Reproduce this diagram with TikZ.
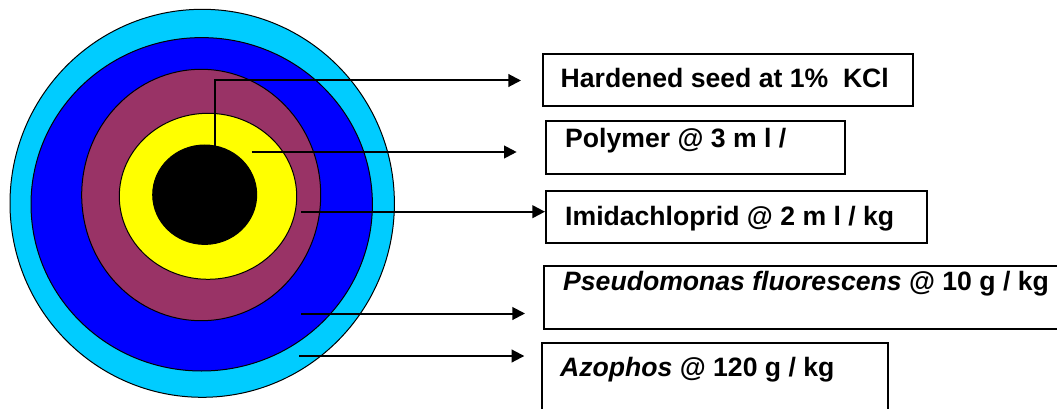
\documentclass[tikz,border=0pt]{standalone}
\usepackage{fontspec}
\setmainfont{Liberation Sans}
\usetikzlibrary{arrows.meta,shapes.geometric}
\definecolor{ringcyan}{HTML}{00CCFF}
\definecolor{ringblue}{HTML}{0000FF}
\definecolor{ringmaroon}{HTML}{993366}
\definecolor{ringyellow}{HTML}{FFFF00}
\begin{document}
\begin{tikzpicture}[x=1pt,y=-1pt,
  ring/.style={ellipse, draw=black, line width=1pt, inner sep=0pt, outer sep=0pt},
  labelbox/.style={draw=black, line width=2pt, inner sep=0pt, anchor=north west},
  labeltext/.style={anchor=base west, inner sep=0pt, font=\fontsize{26.6}{30}\selectfont\bfseries},
  conn/.style={line width=2pt, -{Triangle[length=12.7pt,width=12.7pt]}}]
\useasboundingbox (0,0) rectangle (1057,409);
\clip (0,0) rectangle (1057,409);
% rings
\node[ring, fill=ringcyan, minimum width=384.4pt, minimum height=388pt] (outer) at (202.2,203.3) {};
\node[ring, fill=ringblue, minimum width=341.4pt, minimum height=333.4pt] (blue) at (201.7,204.3) {};
\node[ring, fill=ringmaroon, minimum width=239pt, minimum height=251.4pt] (maroon) at (201.2,195) {};
\node[ring, fill=ringyellow, minimum width=177.4pt, minimum height=166pt] (yellow) at (208,196.3) {};
\node[ring, fill=black, minimum width=104pt, minimum height=99.4pt] (seed) at (204.7,194.7) {};
% boxes
\node[labelbox, minimum width=370pt, minimum height=52.3pt] (b1) at (541.7,52.7) {};
\node[labelbox, minimum width=299pt, minimum height=52.2pt] (b2) at (545.3,120.3) {};
\node[labelbox, minimum width=381pt, minimum height=51.4pt] (b3) at (545,190.3) {};
\node[labelbox, minimum width=530pt, minimum height=63.3pt] (b4) at (542.7,265) {};
\node[labelbox, minimum width=345.7pt, minimum height=90pt] (b5) at (541.3,342.3) {};
% texts
\node[labeltext] (t1) at (560.5,87.3) {Hardened seed at 1\%\ \ KCl};
\node[labeltext] (t2) at (565,147.3) {Polymer @ 3 m l /};
\node[labeltext] (t3) at (565,225) {Imidachloprid @ 2 m l / kg};
\node[labeltext] (t4) at (563,290.7) {\textit{Pseudomonas fluorescens} @ 10 g / kg};
\node[labeltext] (t5) at (560,376.7) {\textit{Azophos} @ 120 g / kg};
% connectors
\coordinate (s1) at (215,145.7);
\coordinate (e1) at (521,80.5);
\coordinate (s2) at (251.7,152);
\coordinate (e2) at (516.7,152);
\coordinate (s3) at (301,211.7);
\coordinate (s4) at (301,313.5);
\coordinate (e4) at (525,313.5);
\coordinate (s5) at (299.3,356);
\coordinate (e5) at (524.3,356);
\draw[conn] (s1) |- (e1);
\draw[conn] (s2) -- (e2);
\draw[conn] (s3) -- (s3 -| b3.west);
\draw[conn] (s4) -- (e4);
\draw[conn] (s5) -- (e5);
\end{tikzpicture}
\end{document}
